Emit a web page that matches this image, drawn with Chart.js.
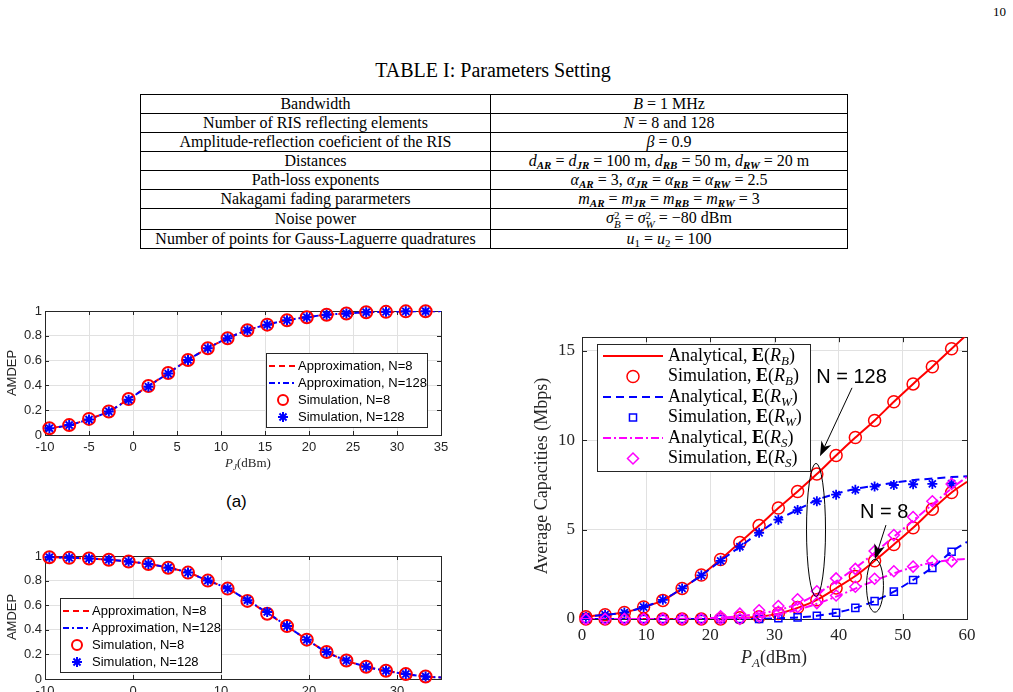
<!DOCTYPE html>
<html>
<head>
<meta charset="utf-8">
<script src="https://cdn.jsdelivr.net/npm/chart.js@4.4.1/dist/chart.umd.min.js"></script>
<style>
  html, body { margin: 0; padding: 0; background: #fff; }
  body { width: 1013px; height: 692px; position: relative; overflow: hidden; font-family: 'Liberation Serif', 'Times New Roman', serif; color: #000; }
  .abs { position: absolute; }
  #pageno { left: 993px; top: 4px; font-size: 13px; }
  #caption { left: 293px; width: 400px; top: 58px; text-align: center; font-size: 20px; line-height: 24px; }
  #params { left: 140px; top: 94px; width: 707px; border-collapse: collapse; table-layout: fixed; font-size: 16px; }
  #params td { border: 1px solid #000; height: 18px; padding: 0; line-height: 18px; text-align: center; white-space: nowrap; }
  #params sub { font-size: 11px; line-height: 0; vertical-align: -3px; font-weight: bold; font-style: italic; }
  #params sub.n { font-weight: normal; font-style: normal; }
  .ss { display: inline-block; vertical-align: -5px; line-height: 9px; font-size: 11px; text-align: left; }
  .ss span { display: block; }
  #sublabel { left: 226px; top: 492px; font-family: 'Liberation Sans', Arial, sans-serif; font-size: 17px; }
  canvas { position: absolute; }
</style>
</head>
<body>
<div id="pageno" class="abs">10</div>
<div id="caption" class="abs">TABLE I: Parameters Setting</div>
<table id="params" class="abs">
  <colgroup><col style="width:350px"><col style="width:357px"></colgroup>
  <tr><td>Bandwidth</td><td><i>B</i> = 1 MHz</td></tr>
  <tr><td>Number of RIS reflecting elements</td><td><i>N</i> = 8 and 128</td></tr>
  <tr><td>Amplitude-reflection coeficient of the RIS</td><td><i>β</i> = 0.9</td></tr>
  <tr><td>Distances</td><td><i>d</i><sub>AR</sub> = <i>d</i><sub>JR</sub> = 100 m, <i>d</i><sub>RB</sub> = 50 m, <i>d</i><sub>RW</sub> = 20 m</td></tr>
  <tr><td>Path-loss exponents</td><td><i>α</i><sub>AR</sub> = 3, <i>α</i><sub>JR</sub> = <i>α</i><sub>RB</sub> = <i>α</i><sub>RW</sub> = 2.5</td></tr>
  <tr><td>Nakagami fading pararmeters</td><td><i>m</i><sub>AR</sub> = <i>m</i><sub>JR</sub> = <i>m</i><sub>RB</sub> = <i>m</i><sub>RW</sub> = 3</td></tr>
  <tr><td>Noise power</td><td><i>σ</i><span class="ss"><span>2</span><span><i>B</i></span></span> = <i>σ</i><span class="ss"><span>2</span><span><i>W</i></span></span> = −80 dBm</td></tr>
  <tr><td>Number of points for Gauss-Laguerre quadratures</td><td><i>u</i><sub class="n">1</sub> = <i>u</i><sub class="n">2</sub> = 100</td></tr>
</table>
<div id="sublabel" class="abs">(a)</div>

<canvas id="amdep-top" width="460" height="175" style="left:0;top:300px"></canvas>
<canvas id="amdep-bottom" width="460" height="175" style="left:0;top:545px"></canvas>
<canvas id="capacity" width="483" height="372" style="left:530px;top:320px"></canvas>

<script>
// ---- AMDEP vs P_J (panel (a) and the panel below it) ----
const pjMarks = [-9.5, -7.25, -5, -2.75, -0.5, 1.75, 4, 6.25, 8.5, 10.75, 13, 15.25, 17.5, 19.75, 22, 24.25, 26.5, 28.75, 31, 33.25];
const pjLine = [-10, -9.5, -7.25, -5, -2.75, -0.5, 1.75, 4, 6.25, 8.5, 10.75, 13, 15.25, 17.5, 19.75, 22, 24.25, 26.5, 28.75, 31, 33.25, 35];

const topApprox8 = [0.05, 0.055, 0.08, 0.13, 0.19, 0.29, 0.395, 0.5, 0.605, 0.7, 0.78, 0.845, 0.89, 0.925, 0.95, 0.97, 0.98, 0.99, 0.993, 0.997, 0.998, 0.999];
const topApprox128 = [0.05, 0.055, 0.08, 0.128, 0.19, 0.288, 0.393, 0.498, 0.605, 0.7, 0.78, 0.845, 0.89, 0.925, 0.95, 0.97, 0.98, 0.99, 0.993, 0.997, 0.998, 0.999];
const topSim8 = [0.055, 0.08, 0.13, 0.19, 0.29, 0.395, 0.5, 0.605, 0.7, 0.78, 0.845, 0.89, 0.925, 0.95, 0.97, 0.98, 0.99, 0.993, 0.997, 0.998];
const topSim128 = [0.055, 0.08, 0.125, 0.19, 0.285, 0.39, 0.495, 0.605, 0.7, 0.78, 0.845, 0.89, 0.925, 0.95, 0.97, 0.98, 0.99, 0.993, 0.997, 0.998];

const botApprox8 = [0.99, 0.99, 0.985, 0.98, 0.97, 0.955, 0.935, 0.905, 0.865, 0.8, 0.735, 0.64, 0.535, 0.43, 0.32, 0.22, 0.15, 0.1, 0.067, 0.04, 0.02, 0.012];
const botApprox128 = [0.99, 0.99, 0.985, 0.98, 0.97, 0.955, 0.935, 0.905, 0.865, 0.8, 0.735, 0.64, 0.54, 0.43, 0.32, 0.22, 0.15, 0.1, 0.067, 0.04, 0.02, 0.012];
const botSim8 = [0.99, 0.985, 0.98, 0.97, 0.955, 0.935, 0.905, 0.865, 0.8, 0.735, 0.635, 0.53, 0.43, 0.32, 0.22, 0.15, 0.1, 0.067, 0.04, 0.02];
const botSim128 = [0.99, 0.985, 0.98, 0.97, 0.955, 0.935, 0.905, 0.865, 0.8, 0.735, 0.64, 0.545, 0.43, 0.32, 0.22, 0.15, 0.1, 0.067, 0.04, 0.02];

// ---- Average capacities vs P_A ----
const paMarks = [0.6, 3.6, 6.6, 9.6, 12.6, 15.6, 18.6, 21.6, 24.6, 27.6, 30.6, 33.6, 36.6, 39.6, 42.6, 45.6, 48.6, 51.6, 54.6, 57.6];
const paLine = [0, 0.6, 3.6, 6.6, 9.6, 12.6, 15.6, 18.6, 21.6, 24.6, 27.6, 30.6, 33.6, 36.6, 39.6, 42.6, 45.6, 48.6, 51.6, 54.6, 57.6, 60];

// N = 128
const rbAna128 = [0.1, 0.13, 0.24, 0.36, 0.67, 1.04, 1.71, 2.46, 3.33, 4.28, 5.22, 6.2, 7.13, 8.1, 9.14, 10.14, 11.1, 12.14, 13.14, 14.1, 15.1, 15.9];
const rbSim128 = [0.13, 0.24, 0.36, 0.67, 1.04, 1.71, 2.46, 3.33, 4.28, 5.22, 6.2, 7.13, 8.1, 9.14, 10.14, 11.1, 12.14, 13.14, 14.1, 15.1];
const rwAna128 = [0.1, 0.13, 0.24, 0.36, 0.67, 1.07, 1.71, 2.44, 3.25, 4.04, 4.82, 5.55, 6.1, 6.65, 7.0, 7.27, 7.45, 7.62, 7.76, 7.85, 7.93, 7.98];
const rwSim128 = [0.13, 0.24, 0.36, 0.67, 1.07, 1.71, 2.44, 3.25, 4.04, 4.82, 5.55, 6.09, 6.58, 6.95, 7.22, 7.4, 7.49, 7.53, 7.55, 7.57];
const rsAna128 = [0, 0, 0, 0, 0, 0, 0.01, 0.03, 0.08, 0.15, 0.3, 0.5, 0.85, 1.4, 2.1, 2.85, 3.7, 4.6, 5.5, 6.4, 7.3, 7.95];
const rsSim128 = [0, 0, 0, 0, 0, 0, 0, 0.15, 0.3, 0.49, 0.73, 1.1, 1.55, 2.27, 2.8, 3.8, 4.69, 5.7, 6.58, 7.55];
// N = 8
const rbAna8 = [0, 0, 0, 0, 0, 0, 0, 0, 0, 0.05, 0.12, 0.3, 0.62, 1.07, 1.72, 2.4, 3.25, 4.16, 5.1, 6.12, 7.07, 7.67];
const rbSim8 = [0, 0, 0, 0, 0, 0, 0, 0, 0.07, 0.13, 0.31, 0.64, 1.07, 1.73, 2.38, 3.25, 4.16, 5.1, 6.13, 7.07];
const rwAna8 = [0, 0, 0, 0, 0, 0, 0, 0, 0, 0, 0.01, 0.04, 0.09, 0.18, 0.35, 0.62, 1.0, 1.53, 2.18, 2.87, 3.76, 4.31];
const rwSim8 = [0, 0, 0, 0, 0, 0, 0, 0, 0, 0, 0.04, 0.09, 0.18, 0.35, 0.62, 1.0, 1.53, 2.18, 2.85, 3.76];
const rsAna8 = [0, 0, 0, 0, 0, 0, 0, 0, 0.01, 0.04, 0.1, 0.28, 0.52, 0.85, 1.25, 1.7, 2.15, 2.55, 2.9, 3.15, 3.3, 3.36];
const rsSim8 = [0, 0, 0, 0, 0, 0, 0, 0, 0, 0.15, 0.4, 0.67, 0.89, 1.31, 1.8, 2.25, 2.67, 2.93, 3.24, 3.22];

// callouts on the capacity plot, in data units
const calloutText = [['N = 128', 42.0, 13.5], ['N = 8', 47.1, 5.97]];
const calloutArrows = [[42.08, 12.92, 37.09, 9.09], [47.37, 5.25, 45.66, 3.34]];
const calloutRings = [[36.47, 4.98, 1.48, 3.72], [45.66, 1.86, 1.32, 1.48]];

const INK = '#262626';
const GRID = '#e1e1e1';
const RED = '#ff0000', BLUE = '#0000ff', MAGENTA = '#ff00ff';
const SANS = "'Liberation Sans', Arial, sans-serif";
const SERIF = "'Liberation Serif', 'Times New Roman', serif";

const pts = (xs, ys) => xs.map((x, i) => ({ x: x, y: ys[i] }));

function lineSet(xs, ys, color, dash, width) {
  return {
    data: pts(xs, ys), showLine: true, borderColor: color, borderWidth: width, borderDash: dash,
    pointRadius: 0, pointHoverRadius: 0, fill: false, cubicInterpolationMode: 'monotone', clip: 0
  };
}

function markSet(xs, ys, color, style, r, width) {
  return {
    data: pts(xs, ys), showLine: false, pointStyle: style, pointRadius: r, pointHoverRadius: r,
    pointBorderColor: color, pointBackgroundColor: 'rgba(0,0,0,0)', pointBorderWidth: width, clip: false
  };
}

// draw a run of text pieces: r = roman, b = bold, i = italic, s = italic subscript
function rich(ctx, parts, x, y, size, family, align) {
  const fontFor = (st) => {
    if (st === 'b') return `bold ${size}px ${family}`;
    if (st === 'i') return `italic ${size}px ${family}`;
    if (st === 's') return `italic ${Math.round(size * 0.7)}px ${family}`;
    return `${size}px ${family}`;
  };
  let total = 0;
  parts.forEach(([t, st]) => { ctx.font = fontFor(st); total += ctx.measureText(t).width; });
  let cx = align === 'center' ? x - total / 2 : x;
  ctx.textAlign = 'left';
  ctx.textBaseline = 'middle';
  parts.forEach(([t, st]) => {
    ctx.font = fontFor(st);
    ctx.fillText(t, cx, st === 's' ? y + size * 0.3 : y);
    cx += ctx.measureText(t).width;
  });
}

function marker(ctx, style, x, y, r, color, lw) {
  ctx.save();
  ctx.strokeStyle = color;
  ctx.lineWidth = lw;
  ctx.setLineDash([]);
  ctx.beginPath();
  if (style === 'circle') {
    ctx.arc(x, y, r, 0, Math.PI * 2);
  } else if (style === 'rect') {
    const h = r * Math.SQRT1_2;
    ctx.rect(x - h, y - h, 2 * h, 2 * h);
  } else if (style === 'rectRot') {
    ctx.moveTo(x, y - r); ctx.lineTo(x + r, y); ctx.lineTo(x, y + r); ctx.lineTo(x - r, y); ctx.closePath();
  } else if (style === 'star') {
    for (let k = 0; k < 4; k++) {
      const a = k * Math.PI / 4;
      ctx.moveTo(x + r * Math.cos(a), y + r * Math.sin(a));
      ctx.lineTo(x - r * Math.cos(a), y - r * Math.sin(a));
    }
  }
  ctx.stroke();
  ctx.restore();
}

// box, inward ticks, axis titles, legend and callouts (MATLAB look)
function decor(spec) {
  return {
    id: 'decor',
    beforeDatasetsDraw(chart) {
      const { ctx, chartArea: a, scales: { x, y } } = chart;
      ctx.save();
      ctx.strokeStyle = INK;
      ctx.lineWidth = 1;
      ctx.beginPath();
      x.ticks.forEach(t => {
        const px = Math.round(x.getPixelForValue(t.value)) + 0.5;
        ctx.moveTo(px, a.bottom); ctx.lineTo(px, a.bottom - spec.tickLen);
        ctx.moveTo(px, a.top); ctx.lineTo(px, a.top + spec.tickLen);
      });
      y.ticks.forEach(t => {
        const py = Math.round(y.getPixelForValue(t.value)) + 0.5;
        ctx.moveTo(a.left, py); ctx.lineTo(a.left + spec.tickLen, py);
        ctx.moveTo(a.right, py); ctx.lineTo(a.right - spec.tickLen, py);
      });
      ctx.stroke();
      ctx.strokeRect(Math.round(a.left) + 0.5, Math.round(a.top) + 0.5, Math.round(a.width), Math.round(a.height));
      ctx.restore();
    },
    afterDatasetsDraw(chart) {
      const { ctx, scales: { x, y } } = chart;
      ctx.save();
      ctx.fillStyle = INK;
      if (spec.xTitle) {
        const t = spec.xTitle;
        rich(ctx, t.parts, t.x, t.y, t.size, t.family, 'center');
      }
      if (spec.yTitle) {
        const t = spec.yTitle;
        ctx.save();
        ctx.translate(t.x, t.y);
        ctx.rotate(-Math.PI / 2);
        rich(ctx, t.parts, 0, 0, t.size, t.family, 'center');
        ctx.restore();
      }
      const L = spec.legend;
      if (L) {
        ctx.fillStyle = '#fff';
        ctx.fillRect(L.x, L.y, L.w, L.h);
        ctx.strokeStyle = INK;
        ctx.lineWidth = 1;
        ctx.strokeRect(L.x + 0.5, L.y + 0.5, L.w, L.h);
        L.rows.forEach((row, i) => {
          const cy = L.y + L.first + i * L.step;
          if (row.dash) {
            ctx.save();
            ctx.strokeStyle = row.color;
            ctx.lineWidth = L.lineWidth;
            ctx.setLineDash(row.dash);
            ctx.beginPath();
            ctx.moveTo(L.x + L.s0, cy);
            ctx.lineTo(L.x + L.s1, cy);
            ctx.stroke();
            ctx.restore();
          }
          if (row.mark) marker(ctx, row.mark, L.x + L.mx, cy, row.r, row.color, row.lw);
          ctx.fillStyle = '#000';
          rich(ctx, row.text, L.x + L.tx, cy, L.size, L.family, 'left');
        });
      }
      if (spec.callouts) {
        ctx.fillStyle = '#000';
        ctx.strokeStyle = '#000';
        ctx.lineWidth = 1;
        calloutRings.forEach(([cx, cy, rx, ry]) => {
          const px = x.getPixelForValue(cx), py = y.getPixelForValue(cy);
          ctx.beginPath();
          ctx.ellipse(px, py, Math.abs(x.getPixelForValue(cx + rx) - px), Math.abs(y.getPixelForValue(cy + ry) - py), 0, 0, Math.PI * 2);
          ctx.stroke();
        });
        calloutArrows.forEach(([x0, y0, x1, y1]) => {
          const ax = x.getPixelForValue(x0), ay = y.getPixelForValue(y0);
          const bx = x.getPixelForValue(x1), by = y.getPixelForValue(y1);
          const len = Math.hypot(bx - ax, by - ay);
          const ux = (bx - ax) / len, uy = (by - ay) / len;
          const hl = 15, hw = 5.5;
          ctx.beginPath();
          ctx.moveTo(ax, ay);
          ctx.lineTo(bx - ux * hl * 0.7, by - uy * hl * 0.7);
          ctx.stroke();
          ctx.beginPath();
          ctx.moveTo(bx, by);
          ctx.lineTo(bx - ux * hl - uy * hw, by - uy * hl + ux * hw);
          ctx.lineTo(bx - ux * hl * 0.7, by - uy * hl * 0.7);
          ctx.lineTo(bx - ux * hl + uy * hw, by - uy * hl - ux * hw);
          ctx.closePath();
          ctx.fill();
        });
        ctx.font = `20px ${SANS}`;
        ctx.textAlign = 'center';
        ctx.textBaseline = 'middle';
        calloutText.forEach(([txt, cx, cy]) => {
          ctx.fillText(txt, x.getPixelForValue(cx), y.getPixelForValue(cy));
        });
      }
      ctx.restore();
    }
  };
}

// MATLAB-style labels: 0, 0.2, ..., 1 (no trailing zeros)
const plainLabel = (v) => String(Number(v.toFixed(2)));

function axis(min, max, step, font, pad, fitKey, fitVal) {
  return {
    type: 'linear', min: min, max: max,
    grid: { color: GRID, drawTicks: false, lineWidth: 1 },
    border: { display: false },
    ticks: { stepSize: step, font: font, color: INK, padding: pad, includeBounds: false, maxRotation: 0, autoSkip: false, callback: plainLabel },
    afterFit: (s) => { s[fitKey] = fitVal; }
  };
}

function baseOptions(padding, xAxis, yAxis) {
  return {
    responsive: false,
    animation: false,
    events: [],
    layout: { padding: padding },
    scales: { x: xAxis, y: yAxis },
    plugins: { legend: { display: false }, tooltip: { enabled: false } }
  };
}

const tickSans = { family: SANS, size: 13 };
const tickSerif = { family: SERIF, size: 17 };

const amdepLegendRows = [
  { color: RED, dash: [6, 4], text: [['Approximation, N=8', 'r']] },
  { color: BLUE, dash: [6, 3, 2, 3], text: [['Approximation, N=128', 'r']] },
  { color: RED, mark: 'circle', r: 5, lw: 2, text: [['Simulation, N=8', 'r']] },
  { color: BLUE, mark: 'star', r: 5, lw: 2, text: [['Simulation, N=128', 'r']] }
];

function amdepLegend(left) {
  return { x: left, y: 53, w: 161, h: 74, first: 13, step: 17, s0: 3, s1: 29, mx: 17, tx: 32,
           size: 13, family: SANS, lineWidth: 2, rows: amdepLegendRows };
}

function amdepDatasets(approx8, approx128, sim8, sim128) {
  return [
    markSet(pjMarks, sim128, BLUE, 'star', 5, 2),
    markSet(pjMarks, sim8, RED, 'circle', 6, 2),
    lineSet(pjLine, approx128, BLUE, [6, 3, 2, 3], 2),
    lineSet(pjLine, approx8, RED, [6, 4], 2)
  ];
}

// top panel (a)
new Chart(document.getElementById('amdep-top'), {
  type: 'scatter',
  data: { datasets: amdepDatasets(topApprox8, topApprox128, topSim8, topSim128) },
  options: baseOptions({ top: 11, right: 19, left: 0, bottom: 0 },
    axis(-10, 35, 5, tickSans, 5, 'height', 40),
    axis(0, 1, 0.2, tickSans, 3, 'width', 45)),
  plugins: [decor({
    tickLen: 4,
    xTitle: { parts: [['P', 'i'], ['J', 's'], ['(dBm)', 'r']], x: 248, y: 164, size: 13, family: SERIF },
    yTitle: { parts: [['AMDEP', 'r']], x: 12, y: 73, size: 13, family: SANS },
    legend: amdepLegend(266)
  })]
});

// lower panel
new Chart(document.getElementById('amdep-bottom'), {
  type: 'scatter',
  data: { datasets: amdepDatasets(botApprox8, botApprox128, botSim8, botSim128) },
  options: baseOptions({ top: 11, right: 19, left: 0, bottom: 0 },
    axis(-10, 35, 10, tickSans, 5, 'height', 41),
    axis(0, 1, 0.2, tickSans, 3, 'width', 45)),
  plugins: [decor({
    tickLen: 4,
    yTitle: { parts: [['AMDEP', 'r']], x: 12, y: 72, size: 13, family: SANS },
    legend: amdepLegend(60)
  })]
});

// capacity plot
const eOf = (lead, sub) => [[lead, 'r'], ['E', 'b'], ['(', 'r'], ['R', 'i'], [sub, 's'], [')', 'r']];
const dashRW = [8, 5];
const dashRS = [8, 3, 2, 3];

new Chart(document.getElementById('capacity'), {
  type: 'scatter',
  data: {
    datasets: [
      markSet(paMarks, rsSim8, MAGENTA, 'rectRot', 5.5, 1.5),
      markSet(paMarks, rsSim128, MAGENTA, 'rectRot', 5.5, 1.5),
      lineSet(paLine, rsAna8, MAGENTA, dashRS, 2),
      lineSet(paLine, rsAna128, MAGENTA, dashRS, 2),
      markSet(paMarks, rwSim8, BLUE, 'rect', 5, 1.5),
      markSet(paMarks, rwSim128, BLUE, 'star', 5, 1.8),
      lineSet(paLine, rwAna8, BLUE, dashRW, 2),
      lineSet(paLine, rwAna128, BLUE, dashRW, 2),
      markSet(paMarks, rbSim8, RED, 'circle', 6, 1.5),
      markSet(paMarks, rbSim128, RED, 'circle', 6, 1.5),
      lineSet(paLine, rbAna8, RED, [], 2),
      lineSet(paLine, rbAna128, RED, [], 2)
    ]
  },
  options: baseOptions({ top: 11, right: 46, left: 0, bottom: 0 },
    axis(0, 60, 10, tickSerif, 6, 'height', 73),
    axis(0, 15.75, 5, tickSerif, 7, 'width', 52)),
  plugins: [decor({
    tickLen: 5,
    xTitle: { parts: [['P', 'i'], ['A', 's'], ['(dBm)', 'r']], x: 244, y: 338, size: 18, family: SERIF },
    yTitle: { parts: [['Average Capacities (Mbps)', 'r']], x: 12, y: 156, size: 18, family: SERIF },
    legend: {
      x: 67, y: 24, w: 213, h: 127, first: 12, step: 20.5, s0: 6, s1: 66, mx: 36, tx: 71,
      size: 18, family: SERIF, lineWidth: 2,
      rows: [
        { color: RED, dash: [], text: eOf('Analytical, ', 'B') },
        { color: RED, mark: 'circle', r: 6, lw: 1.5, text: eOf('Simulation, ', 'B') },
        { color: BLUE, dash: dashRW, text: eOf('Analytical, ', 'W') },
        { color: BLUE, mark: 'rect', r: 5, lw: 1.5, text: eOf('Simulation, ', 'W') },
        { color: MAGENTA, dash: dashRS, text: eOf('Analytical, ', 'S') },
        { color: MAGENTA, mark: 'rectRot', r: 5.5, lw: 1.5, text: eOf('Simulation, ', 'S') }
      ]
    },
    callouts: true
  })]
});
</script>
</body>
</html>
